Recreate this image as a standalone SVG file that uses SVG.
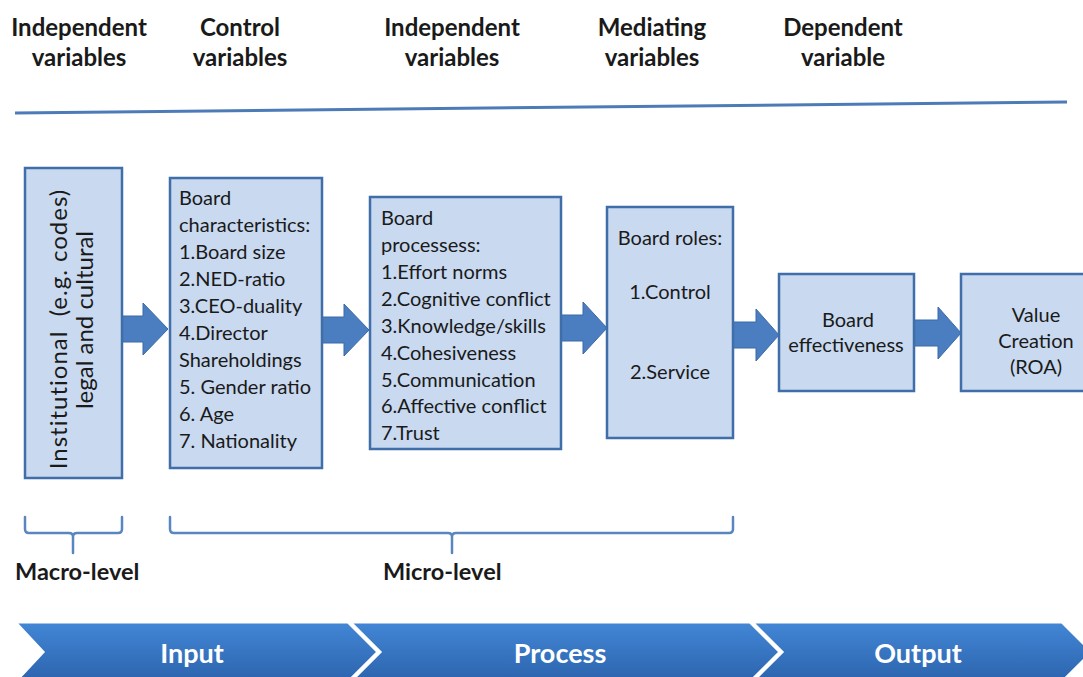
<svg xmlns="http://www.w3.org/2000/svg" width="1083" height="677" viewBox="0 0 1083 677">
  <defs>
    <style>
      .hdr { font-family: Lato, "Open Sans", sans-serif; font-weight: bold; font-size: 24px; fill: #1a1a1a; text-anchor: middle; }
      .box { fill: #c8d9f0; stroke: #3f6ea9; stroke-width: 2.5; }
      .txt { font-family: Lato, "Open Sans", sans-serif; font-size: 20px; fill: #1a1a1a; }
      .ctr { text-anchor: middle; }
      .vert { font-size: 24px; white-space: pre; }
      .arrow { fill: #4a7ec0; stroke: #3a6aa8; stroke-width: 1; }
      .brace { fill: none; stroke: #5a86c0; stroke-width: 2.5; stroke-linejoin: round; stroke-linecap: round; }
      .lvl { font-family: Lato, "Open Sans", sans-serif; font-weight: bold; font-size: 23.5px; fill: #1a1a1a; }
      .chev { fill: url(#chevGrad); stroke: #ffffff; stroke-width: 3; }
      .stage { font-family: Lato, "Open Sans", sans-serif; font-weight: bold; font-size: 27px; fill: #ffffff; text-anchor: middle; }
    </style>
    <linearGradient id="chevGrad" x1="0" y1="0" x2="0" y2="1">
      <stop offset="0" stop-color="#4287d6"/>
      <stop offset="1" stop-color="#2c63ad"/>
    </linearGradient>
  </defs>

  <rect width="1083" height="677" fill="#ffffff"/>

  <!-- column headings -->
  <g id="headings">
    <text class="hdr" x="79" y="36">Independent</text>
    <text class="hdr" x="79" y="66">variables</text>
    <text class="hdr" x="240" y="36">Control</text>
    <text class="hdr" x="240" y="66">variables</text>
    <text class="hdr" x="452" y="36">Independent</text>
    <text class="hdr" x="452" y="66">variables</text>
    <text class="hdr" x="652" y="36">Mediating</text>
    <text class="hdr" x="652" y="66">variables</text>
    <text class="hdr" x="843" y="36">Dependent</text>
    <text class="hdr" x="843" y="66">variable</text>
    <line x1="15" y1="113" x2="1067" y2="102" stroke="#4d7bb8" stroke-width="3"/>
  </g>

  <!-- block arrows between stages -->
  <g id="connectors">
    <polygon class="arrow" points="122,316 143,316 143,303 168,329 143,355 143,342 122,342"/>
    <polygon class="arrow" points="322,317 344,317 344,304 369,330 344,356 344,343 322,343"/>
    <polygon class="arrow" points="561,315 583,315 583,302 607,328 583,354 583,341 561,341"/>
    <polygon class="arrow" points="733,322 756,322 756,309 779,335 756,361 756,348 733,348"/>
    <polygon class="arrow" points="914,320 938,320 938,307 961,333 938,359 938,346 914,346"/>
  </g>

  <g id="institutional">
    <rect class="box" x="25" y="168" width="97" height="310"/>
    <text class="txt ctr vert" transform="translate(67,329) rotate(-90)" letter-spacing="1">Institutional  (e.g. codes)</text>
    <text class="txt ctr vert" transform="translate(93,320) rotate(-90)">legal and cultural</text>
  </g>

  <g id="board-characteristics">
    <rect class="box" x="170" y="178" width="152" height="290"/>
    <text class="txt" x="179" y="205">Board</text>
    <text class="txt" x="179" y="232">characteristics:</text>
    <text class="txt" x="179" y="259">1.Board size</text>
    <text class="txt" x="179" y="286">2.NED-ratio</text>
    <text class="txt" x="179" y="313">3.CEO-duality</text>
    <text class="txt" x="179" y="340">4.Director</text>
    <text class="txt" x="179" y="367">Shareholdings</text>
    <text class="txt" x="179" y="394">5. Gender ratio</text>
    <text class="txt" x="179" y="421">6. Age</text>
    <text class="txt" x="179" y="448">7. Nationality</text>
  </g>

  <g id="board-processes">
    <rect class="box" x="370" y="197" width="191" height="252"/>
    <text class="txt" x="381" y="225">Board</text>
    <text class="txt" x="381" y="252">processess:</text>
    <text class="txt" x="381" y="279">1.Effort norms</text>
    <text class="txt" x="381" y="306">2.Cognitive  conflict</text>
    <text class="txt" x="381" y="333">3.Knowledge/skills</text>
    <text class="txt" x="381" y="360">4.Cohesiveness</text>
    <text class="txt" x="381" y="387">5.Communication</text>
    <text class="txt" x="381" y="413">6.Affective conflict</text>
    <text class="txt" x="381" y="440">7.Trust</text>
  </g>

  <g id="board-roles">
    <rect class="box" x="607" y="207" width="126" height="231"/>
    <text class="txt ctr" x="670" y="245">Board roles:</text>
    <text class="txt ctr" x="670" y="299">1.Control</text>
    <text class="txt ctr" x="670" y="379">2.Service</text>
  </g>

  <g id="board-effectiveness">
    <rect class="box" x="779" y="274" width="135" height="117"/>
    <text class="txt ctr" x="848" y="327">Board</text>
    <text class="txt ctr" x="846" y="352">effectiveness</text>
  </g>

  <g id="value-creation">
    <rect class="box" x="961" y="274" width="130" height="117"/>
    <text class="txt ctr" x="1036" y="322">Value</text>
    <text class="txt ctr" x="1036" y="348">Creation</text>
    <text class="txt ctr" x="1036" y="374">(ROA)</text>
  </g>

  <!-- level braces -->
  <g id="macro-level">
    <path class="brace" d="M25,517 V529 Q25,533 29,533 H69 Q73,533 73,537 V553 M73,537 Q73,533 77,533 H118 Q122,533 122,529 V517"/>
    <text class="lvl" x="15" y="580">Macro-level</text>
  </g>

  <g id="micro-level">
    <path class="brace" d="M170,517 V529 Q170,533 174,533 H448 Q452,533 452,537 V553 M452,537 Q452,533 456,533 H729 Q733,533 733,529 V517"/>
    <text class="lvl" x="383" y="580">Micro-level</text>
  </g>

  <!-- input / process / output band -->
  <g id="stage-band">
    <polygon class="chev" points="15,622 348,622 378,652 348,682 15,682 43,652"/>
    <polygon class="chev" points="350,622 750,622 780,652 750,682 350,682 380,652"/>
    <polygon class="chev" points="752,622 1062,622 1092,652 1062,682 752,682 782,652"/>
    <text class="stage" x="192" y="663">Input</text>
    <text class="stage" x="560" y="663">Process</text>
    <text class="stage" x="918" y="663">Output</text>
  </g>
</svg>
